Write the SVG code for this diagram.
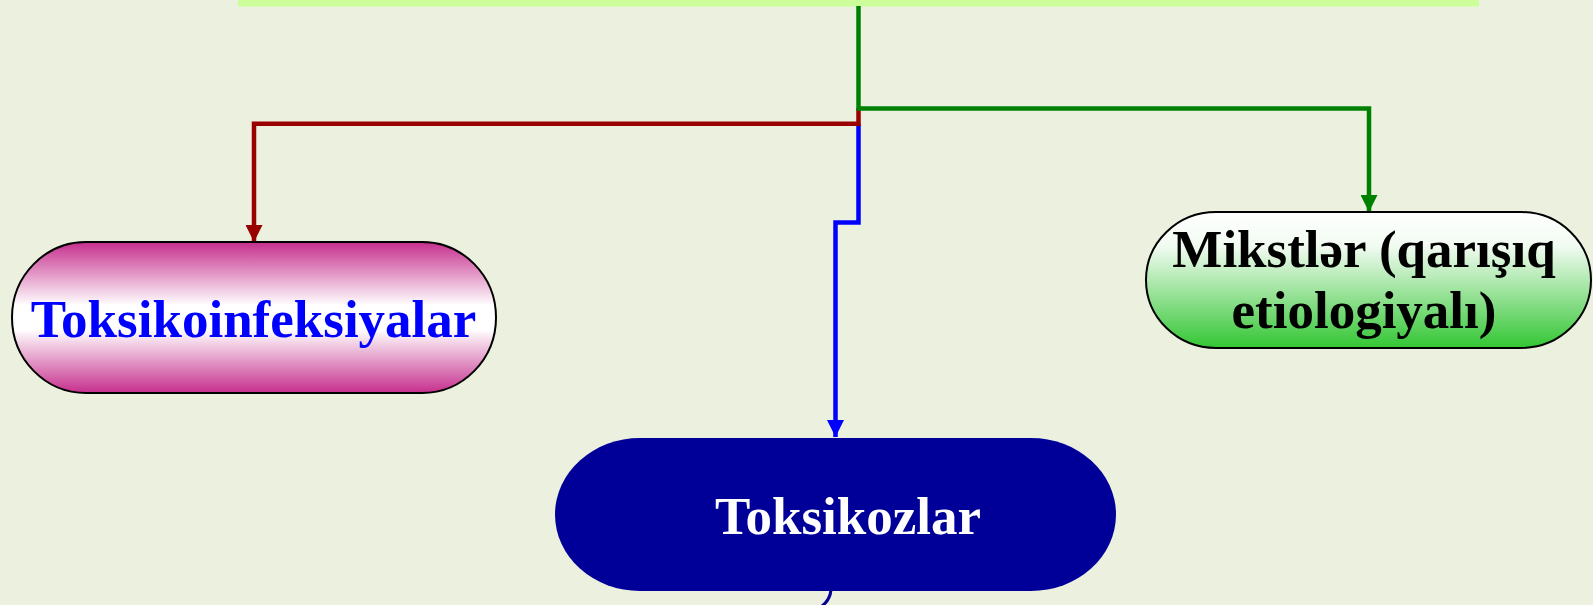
<svg xmlns="http://www.w3.org/2000/svg" width="1593" height="605" viewBox="0 0 1593 605">
  <style>
    .lbl { font-family: "Liberation Serif", "Times New Roman", serif; font-weight: bold; text-anchor: middle; font-size: 53px; }
    .conn { fill: none; stroke-width: 4.5; stroke-linejoin: miter; }
  </style>
  <defs>
    <linearGradient id="gPink" x1="0" y1="0" x2="0" y2="1">
      <stop offset="0" stop-color="#c62f8d"/>
      <stop offset="0.42" stop-color="#ffffff"/>
      <stop offset="0.58" stop-color="#ffffff"/>
      <stop offset="1" stop-color="#c62f8d"/>
    </linearGradient>
    <linearGradient id="gGreen" x1="0" y1="0" x2="0" y2="1">
      <stop offset="0" stop-color="#ffffff"/>
      <stop offset="0.25" stop-color="#f2fbf2"/>
      <stop offset="1" stop-color="#33c633"/>
    </linearGradient>
    <marker id="aRed" viewBox="0 0 10 10" refX="10" refY="5" markerWidth="17" markerHeight="17" markerUnits="userSpaceOnUse" orient="auto">
      <path d="M0,0 L10,5 L0,10 z" fill="#990000"/>
    </marker>
    <marker id="aGreen" viewBox="0 0 10 10" refX="10" refY="5" markerWidth="17" markerHeight="17" markerUnits="userSpaceOnUse" orient="auto">
      <path d="M0,0 L10,5 L0,10 z" fill="#008000"/>
    </marker>
    <marker id="aBlue" viewBox="0 0 10 10" refX="10" refY="5" markerWidth="17" markerHeight="17" markerUnits="userSpaceOnUse" orient="auto">
      <path d="M0,0 L10,5 L0,10 z" fill="#0000ff"/>
    </marker>
  </defs>

  <rect x="0" y="0" width="1593" height="605" fill="#ebf0df"/>

  <!-- header bar -->
  <rect id="header" x="238" y="0" width="1241" height="6.5" fill="#ccff99"/>

  <g id="connectors">
    <path class="conn" stroke="#0000ff" d="M858.5,124 V222.5 H835.5 V437" marker-end="url(#aBlue)"/>
    <path class="conn" stroke="#990000" d="M858.5,108 V123.8 H254 V242" marker-end="url(#aRed)"/>
    <path class="conn" stroke="#008000" d="M858.5,6 V108.5 H1369 V212" marker-end="url(#aGreen)"/>
    <path fill="none" stroke="#000099" stroke-width="3" d="M831,590 Q830,600 822,606"/>
  </g>

  <g id="node-toksikoinfeksiyalar">
    <rect x="12" y="242" width="484" height="151" rx="74" ry="75.5" fill="url(#gPink)" stroke="#000" stroke-width="2"/>
    <text class="lbl" x="253.5" y="336.5" fill="#0000ff">Toksikoinfeksiyalar</text>
  </g>

  <g id="node-mikstler">
    <rect x="1146" y="212" width="445" height="136" rx="70" ry="68" fill="url(#gGreen)" stroke="#000" stroke-width="2"/>
    <text class="lbl" x="1364" y="266.5" fill="#000">Mikstlər (qarışıq</text>
    <text class="lbl" x="1364" y="328" fill="#000">etiologiyalı)</text>
  </g>

  <g id="node-toksikozlar">
    <rect x="555" y="438" width="561" height="153" rx="85" ry="76.5" fill="#000099"/>
    <text class="lbl" x="848" y="534" fill="#ffffff">Toksikozlar</text>
  </g>
</svg>
